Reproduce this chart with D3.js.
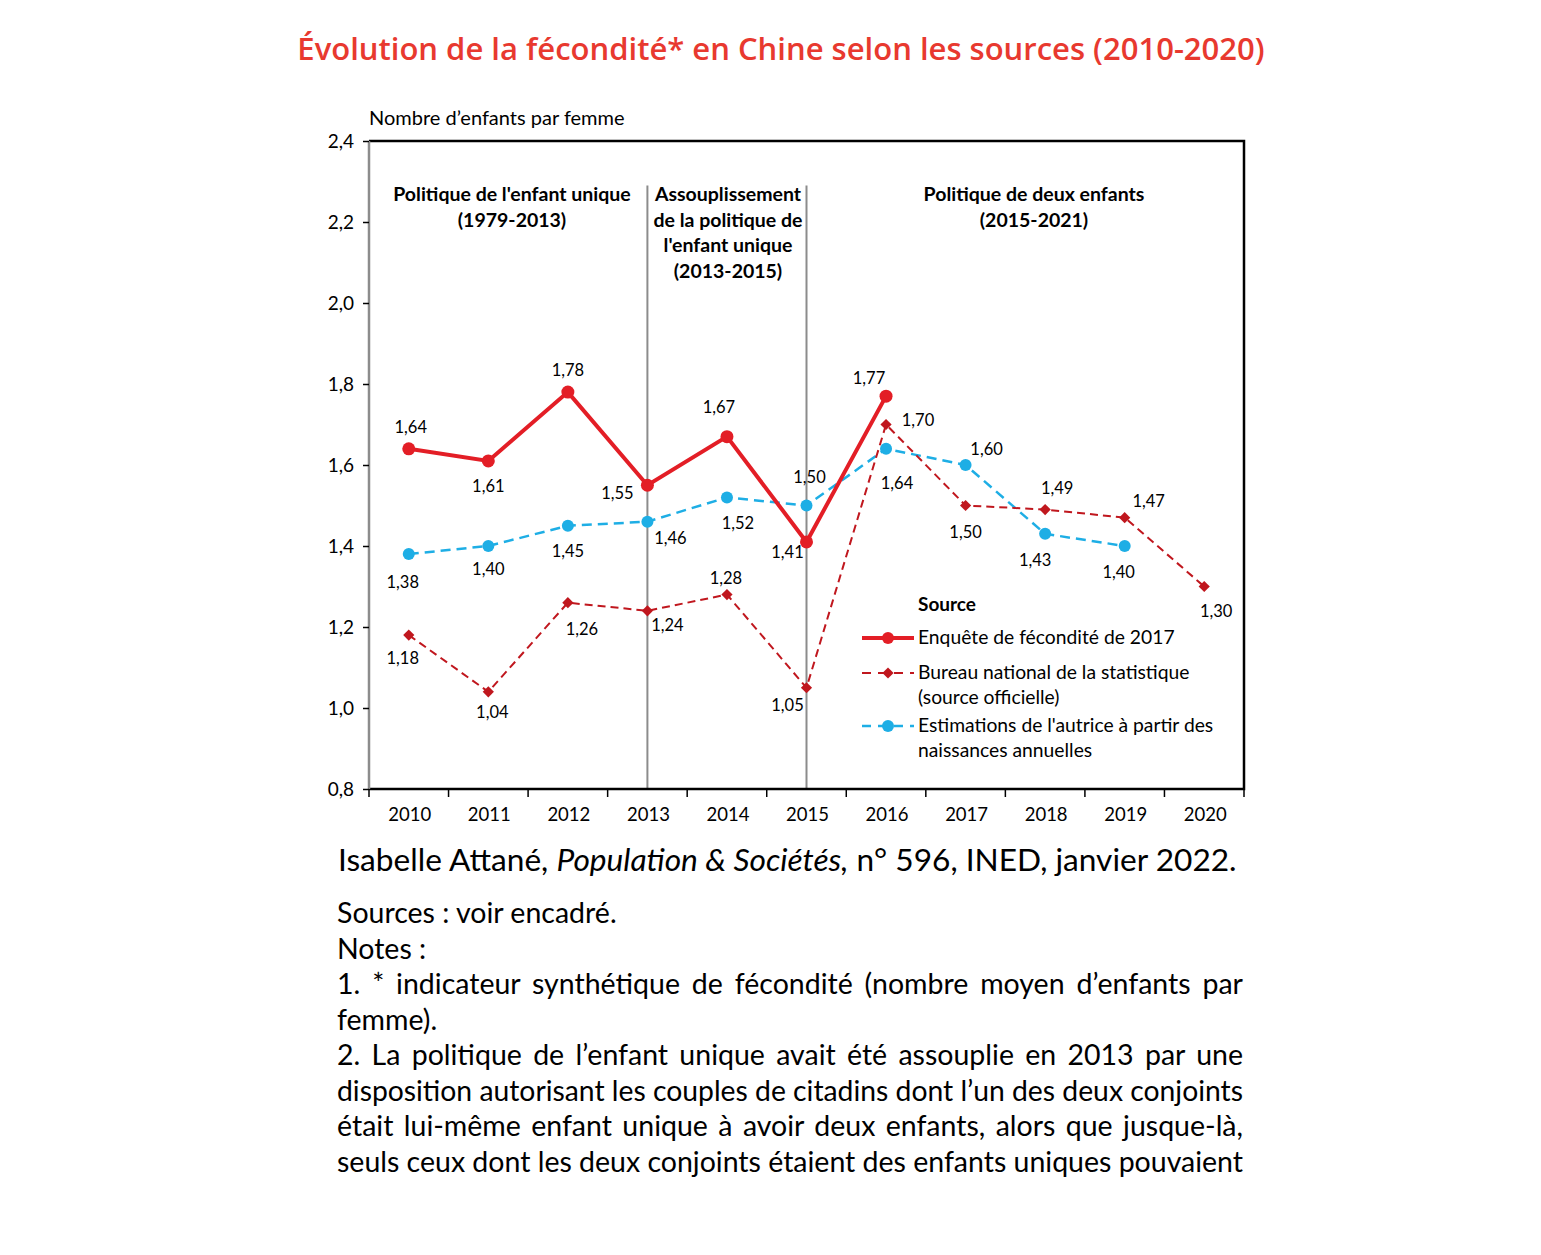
<!DOCTYPE html>
<html>
<head>
<meta charset="utf-8">
<script src="https://cdn.jsdelivr.net/npm/d3@7"></script>
<style>
  body { margin: 0; background: #fff; }
  svg text { font-family: Lato, "Open Sans", sans-serif; }
</style>
</head>
<body>
<div id="chart"></div>
<script>
// data
const years = ['2010', '2011', '2012', '2013', '2014', '2015', '2016', '2017', '2018', '2019', '2020'];
const enquete = [1.64, 1.61, 1.78, 1.55, 1.67, 1.41, 1.77, null, null, null, null];
const bureau = [1.18, 1.04, 1.26, 1.24, 1.28, 1.05, 1.70, 1.50, 1.49, 1.47, 1.30];
const estimations = [1.38, 1.40, 1.45, 1.46, 1.52, 1.50, 1.64, 1.60, 1.43, 1.40, null];
const yTicks = [0.8, 1.0, 1.2, 1.4, 1.6, 1.8, 2.0, 2.2, 2.4];
const policyBreaks = ['2013', '2015'];

// label placement (offset of label centre from its point)
const enqueteLabelOffsets = [[2, -22], [0, 25], [0, -22], [-30, 8], [-8, -30], [-19, 10], [-17, -18]];
const bureauLabelOffsets = [[-6, 23], [4, 20], [14, 26], [20, 14], [-1, -17], [-19, 17], [32, -5], [0, 26], [12, -22], [24, -17], [12, 24]];
const estimLabelOffsets = [[-6, 28], [0, 23], [0, 25], [23, 16], [11, 26], [3, -29], [11, 34], [21, -16], [-10, 26], [-6, 26]];

const W = 1541, H = 1255;
const plot = { left: 369, right: 1244, top: 141, bottom: 789 };
const RED = '#e31e26', DARK = '#c0171e', BLUE = '#1eaee5';

const locale = d3.formatLocale({ decimal: ',', thousands: ' ', grouping: [3], currency: ['', ''] });
const fmt = locale.format('.2f');
const fmt1 = locale.format('.1f');

const svg = d3.select('#chart').append('svg')
    .attr('width', W)
    .attr('height', H);

const x = d3.scaleBand().domain(years).range([plot.left, plot.right]).padding(0);
const cx = d => x(d) + x.bandwidth() / 2;
const y = d3.scaleLinear().domain([0.8, 2.4]).range([plot.bottom, plot.top]);

// scale a text's font size so it spans the given width
function fitWidth(sel, target) {
    const size = +sel.attr('font-size');
    const len = sel.node().getComputedTextLength();
    sel.attr('font-size', size * target / len);
}

// title
const title = svg.append('text')
    .attr('x', 781).attr('y', 60)
    .attr('text-anchor', 'middle')
    .attr('fill', '#e8392f')
    .attr('font-size', 29)
    .attr('font-weight', 600)
    .style('font-family', '"Open Sans", sans-serif')
    .text('Évolution de la fécondité* en Chine selon les sources (2010-2020)');
fitWidth(title, 968);

// y axis title
svg.append('text')
    .attr('x', plot.left).attr('y', 125)
    .attr('font-size', 20)
    .text('Nombre d\u2019enfants par femme');

// policy dividers
svg.append('g').selectAll('line')
    .data(policyBreaks)
    .enter().append('line')
    .attr('x1', d => cx(d)).attr('x2', d => cx(d))
    .attr('y1', y(2.29)).attr('y2', y(0.8))
    .attr('stroke', '#8c8c8c')
    .attr('stroke-width', 2);

// frame
svg.append('path')
    .attr('d', `M${plot.left},${plot.top}H${plot.right}V${plot.bottom}H${plot.left}`)
    .attr('fill', 'none')
    .attr('stroke', '#000')
    .attr('stroke-width', 2.5);
svg.append('line')
    .attr('x1', plot.left).attr('x2', plot.left)
    .attr('y1', plot.top).attr('y2', plot.bottom)
    .attr('stroke', '#8c8c8c')
    .attr('stroke-width', 2.5);

// y axis
const yAxis = svg.append('g')
    .attr('transform', `translate(${plot.left},0)`)
    .call(d3.axisLeft(y).tickValues(yTicks).tickFormat(fmt1).tickSize(6).tickSizeOuter(0));
yAxis.select('.domain').remove();
yAxis.selectAll('.tick line').attr('stroke', '#000').attr('stroke-width', 1.5);
yAxis.selectAll('.tick text')
    .attr('font-size', 19)
    .attr('x', -15)
    .style('font-family', 'Lato, sans-serif');

// x axis: ticks between categories, labels at centres
const xEdges = years.map(d => x(d)).concat([plot.right]);
svg.append('g').selectAll('line')
    .data(xEdges)
    .enter().append('line')
    .attr('x1', d => d).attr('x2', d => d)
    .attr('y1', plot.bottom).attr('y2', plot.bottom + 8)
    .attr('stroke', '#000')
    .attr('stroke-width', 1.5);
svg.append('g').selectAll('text')
    .data(years)
    .enter().append('text')
    .attr('x', d => cx(d) + 1)
    .attr('y', plot.bottom + 32)
    .attr('text-anchor', 'middle')
    .attr('font-size', 18.5)
    .text(d => d);

// policy annotations
const annotations = [
    { at: 512, lines: ['Politique de l\'enfant unique', '(1979-2013)'] },
    { at: 728, lines: ['Assouplissement', 'de la politique de', 'l\'enfant unique', '(2013-2015)'] },
    { at: 1034, lines: ['Politique de deux enfants', '(2015-2021)'] }
];
annotations.forEach(a => {
    svg.append('g').selectAll('text')
        .data(a.lines)
        .enter().append('text')
        .attr('x', a.at)
        .attr('y', (d, i) => 201 + i * 25.5)
        .attr('text-anchor', 'middle')
        .attr('font-size', 19.5)
        .attr('font-weight', 700)
        .text(d => d);
});

// series
function drawSeries(values, offsets, opts) {
    const pts = years.map((yr, i) => ({ yr, v: values[i], off: offsets[i] })).filter(p => p.v != null);
    const g = svg.append('g');
    g.append('path')
        .datum(pts)
        .attr('fill', 'none')
        .attr('stroke', opts.color)
        .attr('stroke-width', opts.width)
        .attr('stroke-dasharray', opts.dash || null)
        .attr('d', d3.line().x(p => cx(p.yr)).y(p => y(p.v)));
    if (opts.marker === 'diamond') {
        g.selectAll('path.mk')
            .data(pts)
            .enter().append('path')
            .attr('class', 'mk')
            .attr('d', d3.symbol().type(d3.symbolDiamond2).size(80))
            .attr('transform', p => `translate(${cx(p.yr)},${y(p.v)})`)
            .attr('fill', opts.color);
    } else {
        g.selectAll('circle')
            .data(pts)
            .enter().append('circle')
            .attr('cx', p => cx(p.yr))
            .attr('cy', p => y(p.v))
            .attr('r', opts.r)
            .attr('fill', opts.color);
    }
    g.selectAll('text')
        .data(pts)
        .enter().append('text')
        .attr('x', p => cx(p.yr) + p.off[0])
        .attr('y', p => y(p.v) + p.off[1] + 6)
        .attr('text-anchor', 'middle')
        .attr('font-size', 16.5)
        .text(p => fmt(p.v));
}

drawSeries(estimations, estimLabelOffsets, { color: BLUE, width: 2.5, dash: '10,6', r: 6 });
drawSeries(bureau, bureauLabelOffsets, { color: DARK, width: 2, dash: '8,5', marker: 'diamond' });
drawSeries(enquete, enqueteLabelOffsets, { color: RED, width: 4, r: 6.5 });

// legend
const legend = svg.append('g');
legend.append('text')
    .attr('x', 918).attr('y', 611)
    .attr('font-size', 19)
    .attr('font-weight', 700)
    .text('Source');
const legendItems = [
    { color: RED, width: 4, dash: null, marker: 'circle', ly: 638, lines: ['Enquête de fécondité de 2017'] },
    { color: DARK, width: 2, dash: '8,5', marker: 'diamond', ly: 673, lines: ['Bureau national de la statistique', '(source officielle)'] },
    { color: BLUE, width: 2.5, dash: '10,6', marker: 'circle', ly: 726, lines: ['Estimations de l\'autrice à partir des', 'naissances annuelles'] }
];
legendItems.forEach(it => {
    legend.append('line')
        .attr('x1', 862).attr('x2', 914)
        .attr('y1', it.ly).attr('y2', it.ly)
        .attr('stroke', it.color)
        .attr('stroke-width', it.width)
        .attr('stroke-dasharray', it.dash ? '9,7' : null);
    if (it.marker === 'diamond') {
        legend.append('path')
            .attr('d', d3.symbol().type(d3.symbolDiamond2).size(80))
            .attr('transform', `translate(888,${it.ly})`)
            .attr('fill', it.color);
    } else {
        legend.append('circle')
            .attr('cx', 888).attr('cy', it.ly).attr('r', 6)
            .attr('fill', it.color);
    }
    legend.append('g').selectAll('text')
        .data(it.lines)
        .enter().append('text')
        .attr('x', 918)
        .attr('y', (d, i) => it.ly + 6 + i * 25)
        .attr('font-size', 19.3)
        .text(d => d);
});

// citation
const cite = svg.append('text')
    .attr('x', 338).attr('y', 871)
    .attr('font-size', 26);
cite.append('tspan').text('Isabelle Attané, ');
cite.append('tspan').attr('font-style', 'italic').text('Population & Sociétés,');
cite.append('tspan').text(' n° 596, INED, janvier 2022.');
fitWidth(cite, 899);

// notes, justified where the original is
const notes = [
    { t: 'Sources : voir encadré.', j: false },
    { t: 'Notes :', j: false },
    { t: '1. * indicateur synthétique de fécondité (nombre moyen d\u2019enfants par', j: true },
    { t: 'femme).', j: false },
    { t: '2. La politique de l\u2019enfant unique avait été assouplie en 2013 par une', j: true },
    { t: 'disposition autorisant les couples de citadins dont l\u2019un des deux conjoints', j: true },
    { t: 'était lui-même enfant unique à avoir deux enfants, alors que jusque-là,', j: true },
    { t: 'seuls ceux dont les deux conjoints étaient des enfants uniques pouvaient', j: true }
];
const noteLeft = 337, noteRight = 1243;
notes.forEach((n, i) => {
    const t = svg.append('text')
        .attr('x', noteLeft)
        .attr('y', 923 + i * 35.5)
        .attr('font-size', 28.5)
        .text(n.t);
    if (n.j) {
        const len = t.node().getComputedTextLength();
        const spaces = (n.t.match(/ /g) || []).length;
        const extra = (noteRight - noteLeft - len) / spaces;
        if (extra >= 0) t.attr('word-spacing', extra);
        else t.attr('textLength', noteRight - noteLeft).attr('lengthAdjust', 'spacingAndGlyphs');
    }
});
</script>
</body>
</html>
